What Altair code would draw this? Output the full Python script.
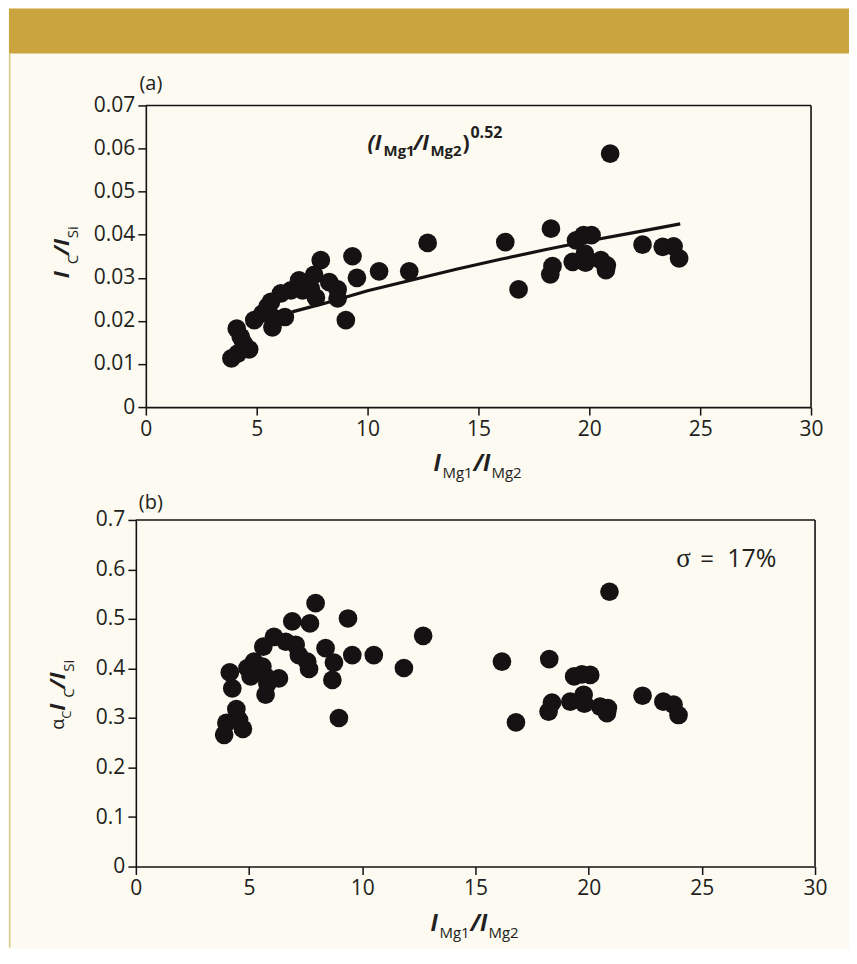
import altair as alt
import pandas as pd

# ---------------- data ----------------
# panel (a): I_C/I_Si versus I_Mg1/I_Mg2
xa = [3.86, 4.14, 4.66, 4.41, 4.28, 4.10, 4.89, 5.26, 5.71, 5.71, 5.49, 6.27, 5.64, 6.09, 6.54,
      6.91, 7.07, 7.44, 7.67, 7.59, 7.89, 8.27, 8.65, 8.65, 9.02, 9.32, 9.52, 10.52, 11.88, 12.71,
      16.21, 16.81, 18.27, 18.34, 18.24, 19.25, 19.40, 19.74, 20.10, 19.80, 19.83, 20.52, 20.79,
      20.75, 20.94, 22.40, 23.31, 23.80, 24.05]
ya = [0.0113, 0.0124, 0.0134, 0.0148, 0.0163, 0.0182, 0.0202, 0.0217, 0.0185, 0.0209, 0.0233,
      0.0209, 0.0244, 0.0264, 0.0271, 0.0294, 0.0271, 0.0275, 0.0254, 0.0307, 0.0341, 0.0290,
      0.0273, 0.0252, 0.0202, 0.0350, 0.0300, 0.0315, 0.0315, 0.0381,
      0.0383, 0.0273, 0.0414, 0.0327, 0.0308, 0.0337, 0.0387, 0.0399, 0.0399, 0.0356, 0.0335,
      0.0341, 0.0329, 0.0318, 0.0588, 0.0377, 0.0372, 0.0373, 0.0345]

# fitted curve (I_Mg1/I_Mg2)^0.52
fit_x = [6.6, 8, 10, 12, 14, 16, 18, 20, 22, 24.1]
fit_y = [0.0221, 0.0240, 0.0270, 0.0295, 0.0320, 0.0343, 0.0365, 0.0386, 0.0405, 0.0425]

# panel (b): alpha_C I_C/I_Si versus I_Mg1/I_Mg2
xb = [3.90, 4.00, 4.73, 4.56, 4.44, 4.26, 4.15, 4.93, 5.22, 5.07, 5.59, 5.73, 5.81, 5.73, 6.32,
      5.63, 6.10, 6.62, 6.91, 7.06, 7.20, 7.69, 7.94, 7.57, 7.65, 8.38, 8.75, 8.68, 8.97, 9.37,
      9.56, 10.51, 11.84, 12.69,
      16.17, 16.79, 18.26, 18.38, 18.23, 19.19, 19.36, 19.70, 20.07, 19.78, 19.81, 20.51, 20.81,
      20.85, 20.92, 22.38, 23.30, 23.75, 23.97]
yb = [0.266, 0.290, 0.278, 0.296, 0.318, 0.360, 0.392, 0.401, 0.414, 0.384, 0.404, 0.384, 0.369,
      0.347, 0.380, 0.444, 0.464, 0.454, 0.495, 0.448, 0.427, 0.491, 0.532, 0.414, 0.399, 0.441,
      0.412, 0.377, 0.300, 0.501, 0.427, 0.427, 0.401, 0.466,
      0.414, 0.291, 0.419, 0.331, 0.313, 0.333, 0.384, 0.388, 0.387, 0.347, 0.329, 0.323, 0.310,
      0.320, 0.555, 0.345, 0.333, 0.327, 0.306]

x_ticks = [0, 5, 10, 15, 20, 25, 30]
ya_ticks = [0, 0.01, 0.02, 0.03, 0.04, 0.05, 0.06, 0.07]
yb_ticks = [0, 0.1, 0.2, 0.3, 0.4, 0.5, 0.6, 0.7]

# ---------------- styling ----------------
FONT = "Open Sans"
INK = "#141213"
LABEL = "#231f20"
BAND = "#c9a43f"
CREAM = "#fcfaf1"
EDGE = "#d8c78a"

one = pd.DataFrame({"k": [0]})


def txt(s, x, y, size, weight="normal", style="normal", angle=0, font=FONT,
        align="left", baseline="alphabetic"):
    return alt.Chart(one).mark_text(
        text=s, fontSize=size, fontWeight=weight, fontStyle=style, angle=angle,
        font=font, align=align, baseline=baseline, color=LABEL
    ).encode(x=alt.value(x), y=alt.value(y))


def axis(values, expr=None, offset=0):
    kw = dict(values=values, grid=False, title=None, domainColor=INK, domainWidth=1.6,
              tickColor=INK, tickWidth=1.5, tickSize=8, labelFont=FONT, labelFontSize=21,
              labelColor=LABEL, labelPadding=3, labelOverlap=False, labelFlush=False,
              offset=offset)
    if expr:
        kw["labelExpr"] = expr
    return alt.Axis(**kw)


def frame(xmax, ymax):
    return pd.DataFrame({"x": [0, xmax], "x2": [xmax, xmax], "y": [ymax, 0], "y2": [ymax, ymax]})


# ---------------- panel (a) ----------------
WA, HA, SHIFT = 676, 302, 10
xs_a = alt.Scale(domain=[0, 30], range=[SHIFT, WA], nice=False)
ys_a = alt.Scale(domain=[0, 0.07], nice=False, zero=True)
xax_a = axis(x_ticks, "format(datum.value, 'd')")
yax_a = axis(ya_ticks, "datum.value == 0 ? '0' : format(datum.value, '.2f')", offset=-SHIFT)

pts_a = alt.Chart(pd.DataFrame({"x": xa, "y": ya})).mark_circle(
    size=350, opacity=1, color=INK).encode(
    x=alt.X("x:Q", scale=xs_a, axis=xax_a), y=alt.Y("y:Q", scale=ys_a, axis=yax_a))
fit_a = alt.Chart(pd.DataFrame({"x": fit_x, "y": fit_y})).mark_line(
    color=INK, strokeWidth=3.2).encode(
    x=alt.X("x:Q", scale=xs_a, axis=xax_a), y=alt.Y("y:Q", scale=ys_a, axis=yax_a))
frm_a = alt.Chart(frame(30, 0.07)).mark_rule(color=INK, strokeWidth=1.6).encode(
    x=alt.X("x:Q", scale=xs_a, axis=xax_a), x2="x2:Q",
    y=alt.Y("y:Q", scale=ys_a, axis=yax_a), y2="y2:Q")

band = alt.Chart(one).mark_rect(color=BAND).encode(
    x=alt.value(-127), x2=alt.value(714), y=alt.value(-97), y2=alt.value(-52))
edge = alt.Chart(one).mark_rule(color=EDGE, strokeWidth=1.5).encode(
    x=alt.value(-126.3), y=alt.value(-52), y2=alt.value(843))

texts_a = [
    txt("(a)", 15, -21, 20, align="center", baseline="middle"),
    # y title  I_C / I_Si
    txt("I", -67, 173, 22, "bold", "italic", 270),
    txt("C", -58, 159, 15, angle=270),
    txt("/I", -67, 150, 22, "bold", "italic", 270),
    txt("Si", -58, 133, 15, angle=270),
    # x title  I_Mg1 / I_Mg2
    txt("I", 298, 366, 23, "bold", "italic"),
    txt("Mg1", 307, 373, 15),
    txt("/I", 338, 366, 23, "bold", "italic"),
    txt("Mg2", 356, 373, 15),
    # annotation (I_Mg1/I_Mg2)^0.52
    txt("(I", 232, 45, 21, "bold", "italic"),
    txt("Mg1", 248, 51, 15, "bold"),
    txt("/I", 278, 45, 21, "bold", "italic"),
    txt("Mg2", 295, 51, 15, "bold"),
    txt(")", 327, 45, 21, "bold"),
    txt("0.52", 335, 33, 16, "bold"),
]

panel_a = alt.layer(band, edge, frm_a, fit_a, pts_a, *texts_a).properties(width=WA, height=HA)

# ---------------- panel (b) ----------------
WB, HB = 680, 347
xs_b = alt.Scale(domain=[0, 30], nice=False)
ys_b = alt.Scale(domain=[0, 0.7], nice=False, zero=True)
xax_b = axis(x_ticks, "format(datum.value, 'd')")
yax_b = axis(yb_ticks, "datum.value == 0 ? '0' : format(datum.value, '.1f')")

pts_b = alt.Chart(pd.DataFrame({"x": xb, "y": yb})).mark_circle(
    size=350, opacity=1, color=INK).encode(
    x=alt.X("x:Q", scale=xs_b, axis=xax_b), y=alt.Y("y:Q", scale=ys_b, axis=yax_b))
frm_b = alt.Chart(frame(30, 0.7)).mark_rule(color=INK, strokeWidth=1.6).encode(
    x=alt.X("x:Q", scale=xs_b, axis=xax_b), x2="x2:Q",
    y=alt.Y("y:Q", scale=ys_b, axis=yax_b), y2="y2:Q")

texts_b = [
    txt("(b)", 15, -17, 20, align="center", baseline="middle"),
    # y title  alpha_C I_C / I_Si
    txt("\u03b1", -72, 210, 18, angle=270),
    txt("C", -65, 199, 13, angle=270),
    txt("I", -71, 191, 22, "bold", "italic", 270),
    txt("C", -62, 178, 15, angle=270),
    txt("/I", -71, 169, 22, "bold", "italic", 270),
    txt("Si", -62, 152, 15, angle=270),
    # x title
    txt("I", 295, 412, 23, "bold", "italic"),
    txt("Mg1", 304, 419, 15),
    txt("/I", 335, 412, 23, "bold", "italic"),
    txt("Mg2", 353, 419, 15),
    # sigma annotation
    txt("\u03c3", 541, 47, 27, font="Liberation Serif"),
    txt("=", 565, 47, 24),
    txt("17%", 592, 47, 25),
]

panel_b = alt.layer(frm_b, pts_b, *texts_b).properties(width=WB, height=HB)

chart = alt.vconcat(panel_a, panel_b, spacing=113, bounds="flush").properties(
    padding=0, background=CREAM
).configure_view(stroke=None)

chart.save("out.html", embed_options={"renderer": "svg", "actions": False})
